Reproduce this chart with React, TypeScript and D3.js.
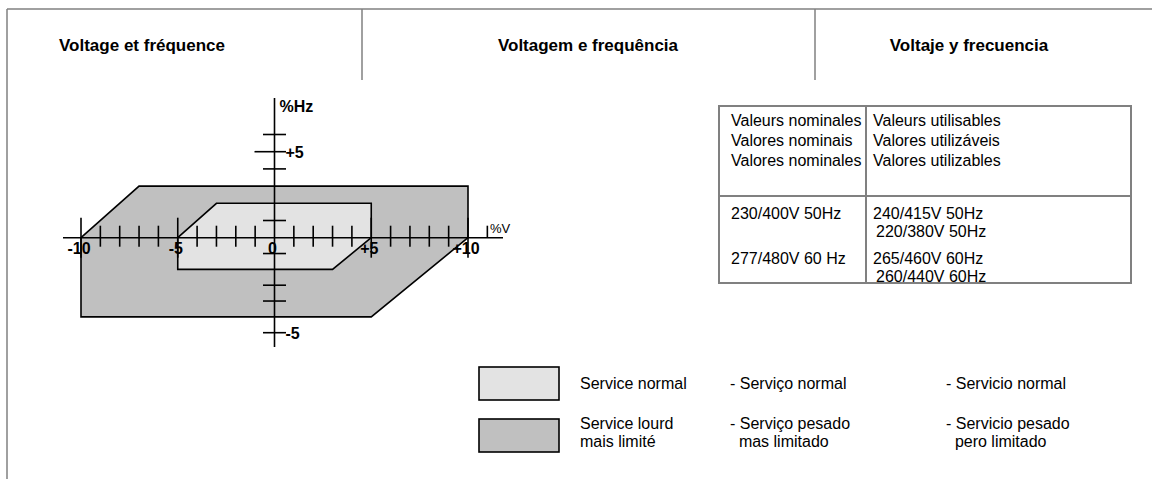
import React from "react";
import * as d3 from "d3";

// column titles
const titles = ["Voltage et fréquence", "Voltagem e frequência", "Voltaje y frecuencia"];

// operating zones, [% voltage, % frequency]
const zoneHeavy: [number, number][] = [[-10, 0], [-7, 3], [10, 3], [10, 0], [5, -5], [-10, -5]];
const zoneNormal: [number, number][] = [[-5, 0], [-3, 2], [5, 2], [5, 0], [3, -2], [-5, -2]];

// axis ticks
const voltMinor = [-9, -8, -7, -6, -4, -3, -2, -1, 1, 2, 3, 4, 6, 7, 8, 9];
const voltMajor = [-10, -5, 5, 10];
const voltEnd = 11;
const voltLabels = [
  { v: -10, t: "-10" },
  { v: -5, t: "-5" },
  { v: 0, t: "0" },
  { v: 5, t: "+5" },
  { v: 10, t: "+10" },
];
const hzMinor = [6, 4, 1, -1, -3, -4];
const hzLabels = [
  { v: 5, t: "+5" },
  { v: -6, t: "-5" },
];

// table
const nominalHead = ["Valeurs nominales", "Valores nominais", "Valores nominales"];
const usableHead = ["Valeurs utilisables", "Valores utilizáveis", "Valores utilizables"];
const nominalRows = ["230/400V 50Hz", "277/480V 60 Hz"];
const usableRows = [
  ["240/415V 50Hz", "220/380V 50Hz"],
  ["265/460V 60Hz", "260/440V 60Hz"],
];

// legend
const legendRows = [
  { fill: "#e3e3e3", fr: ["Service normal"], pt: ["- Serviço normal"], es: ["- Servicio normal"] },
  { fill: "#c0c0c0", fr: ["Service lourd", "mais limité"], pt: ["- Serviço pesado", "  mas limitado"], es: ["- Servicio pesado", "  pero limitado"] },
];

const W = 1160;
const H = 479;
const font = "'Liberation Sans', Arial, sans-serif";
const frame = "#808080";

export default function App() {
  const x = d3.scaleLinear().domain([-10, 10]).range([81, 468]);
  // the drawing is not to scale: the upper half is a bit taller than the lower
  const y = d3.scaleLinear().domain([-6, 0, 6]).range([332.7, 237.7, 134.5]);
  const line = d3.line<[number, number]>().x(d => x(d[0])).y(d => y(d[1]));
  const x0 = x(0);
  const y0 = y(0);

  const colX = [7, 362, 815, 1152];
  const titleX = [142, 588, 969];

  const tb = { l: 719, m: 866, r: 1131, t: 106, mid: 196, b: 283 };

  return (
    <svg width={W} height={H} style={{ position: "absolute", left: 0, top: 0 }} fontFamily={font}>
      <rect width={W} height={H} fill="#fff" />

      {/* frame */}
      <g stroke={frame} strokeWidth={1.5}>
        <line x1={colX[0]} y1={9} x2={colX[3]} y2={9} />
        <line x1={colX[0]} y1={9} x2={colX[0]} y2={H} />
        <line x1={colX[1]} y1={9} x2={colX[1]} y2={80} />
        <line x1={colX[2]} y1={9} x2={colX[2]} y2={80} />
      </g>
      {titles.map((t, i) => (
        <text key={t} x={titleX[i]} y={51} textAnchor="middle" fontWeight="bold" fontSize={17}>
          {t}
        </text>
      ))}

      {/* zones */}
      <path d={line(zoneHeavy) + "Z"} fill="#c0c0c0" stroke="#000" strokeWidth={1.6} />
      <path d={line(zoneNormal) + "Z"} fill="#e3e3e3" stroke="#000" strokeWidth={1.6} />

      {/* voltage axis */}
      <g stroke="#000" strokeWidth={1.6}>
        <line x1={63} y1={y0} x2={503} y2={y0} />
        {voltMinor.map(v => (
          <line key={v} x1={x(v)} x2={x(v)} y1={y0 - 12} y2={y0 + 9} />
        ))}
        {voltMajor.map(v => (
          <line key={v} x1={x(v)} x2={x(v)} y1={y0 - 20} y2={y0 + 20} />
        ))}
        <line x1={x(voltEnd)} x2={x(voltEnd)} y1={y0 - 12} y2={y0} />
      </g>
      {voltLabels.map(d => (
        <text key={d.t} x={x(d.v) - 2} y={y0 + 16} textAnchor="middle" fontWeight="bold" fontSize={16}>
          {d.t}
        </text>
      ))}
      <text x={490} y={233} fontSize={13}>%V</text>

      {/* frequency axis */}
      <g stroke="#000" strokeWidth={1.6}>
        <line x1={x0} y1={98} x2={x0} y2={347} />
        {hzMinor.map(v => (
          <line key={v} x1={x0 - 11.5} x2={x0 + 11.5} y1={y(v)} y2={y(v)} />
        ))}
        <line x1={x0 - 20} x2={x0 + 11.5} y1={y(5)} y2={y(5)} />
        <line x1={x0 - 11.5} x2={x0 + 11.5} y1={y(-6)} y2={y(-6)} />
      </g>
      {hzLabels.map(d => (
        <text key={d.t} x={x0 + 11} y={y(d.v) + 6} fontWeight="bold" fontSize={16}>
          {d.t}
        </text>
      ))}
      <text x={x0 + 5} y={112} fontWeight="bold" fontSize={16}>%Hz</text>

      {/* table */}
      <g stroke={frame} strokeWidth={2} fill="none">
        <rect x={tb.l} y={tb.t} width={tb.r - tb.l} height={tb.b - tb.t} />
        <line x1={tb.m} x2={tb.m} y1={tb.t} y2={tb.b} />
        <line x1={tb.l} x2={tb.r} y1={tb.mid} y2={tb.mid} />
      </g>
      <g fontSize={16}>
        {nominalHead.map((t, i) => (
          <text key={t} x={tb.l + 12} y={126 + i * 20}>{t}</text>
        ))}
        {usableHead.map((t, i) => (
          <text key={t} x={tb.m + 7} y={126 + i * 20}>{t}</text>
        ))}
        {nominalRows.map((t, i) => (
          <text key={t} x={tb.l + 12} y={219 + i * 45}>{t}</text>
        ))}
        {usableRows.map((pair, i) =>
          pair.map((t, j) => (
            <text key={t} x={tb.m + 7 + j * 3} y={219 + i * 45 + j * 18}>{t}</text>
          ))
        )}
      </g>

      {/* legend */}
      {legendRows.map((r, i) => {
        const top = 367 + i * 52;
        const ty = 389 + i * 40;
        const cols = [
          { x: 580, lines: r.fr },
          { x: 730, lines: r.pt },
          { x: 946, lines: r.es },
        ];
        return (
          <g key={i}>
            <rect x={479} y={top} width={80} height={33} fill={r.fill} stroke="#000" strokeWidth={1.6} />
            {cols.map(c =>
              c.lines.map((l, k) => (
                <text key={c.x + "-" + k} x={c.x} y={ty + k * 18} fontSize={16} style={{ whiteSpace: "pre" }}>
                  {l}
                </text>
              ))
            )}
          </g>
        );
      })}
    </svg>
  );
}
